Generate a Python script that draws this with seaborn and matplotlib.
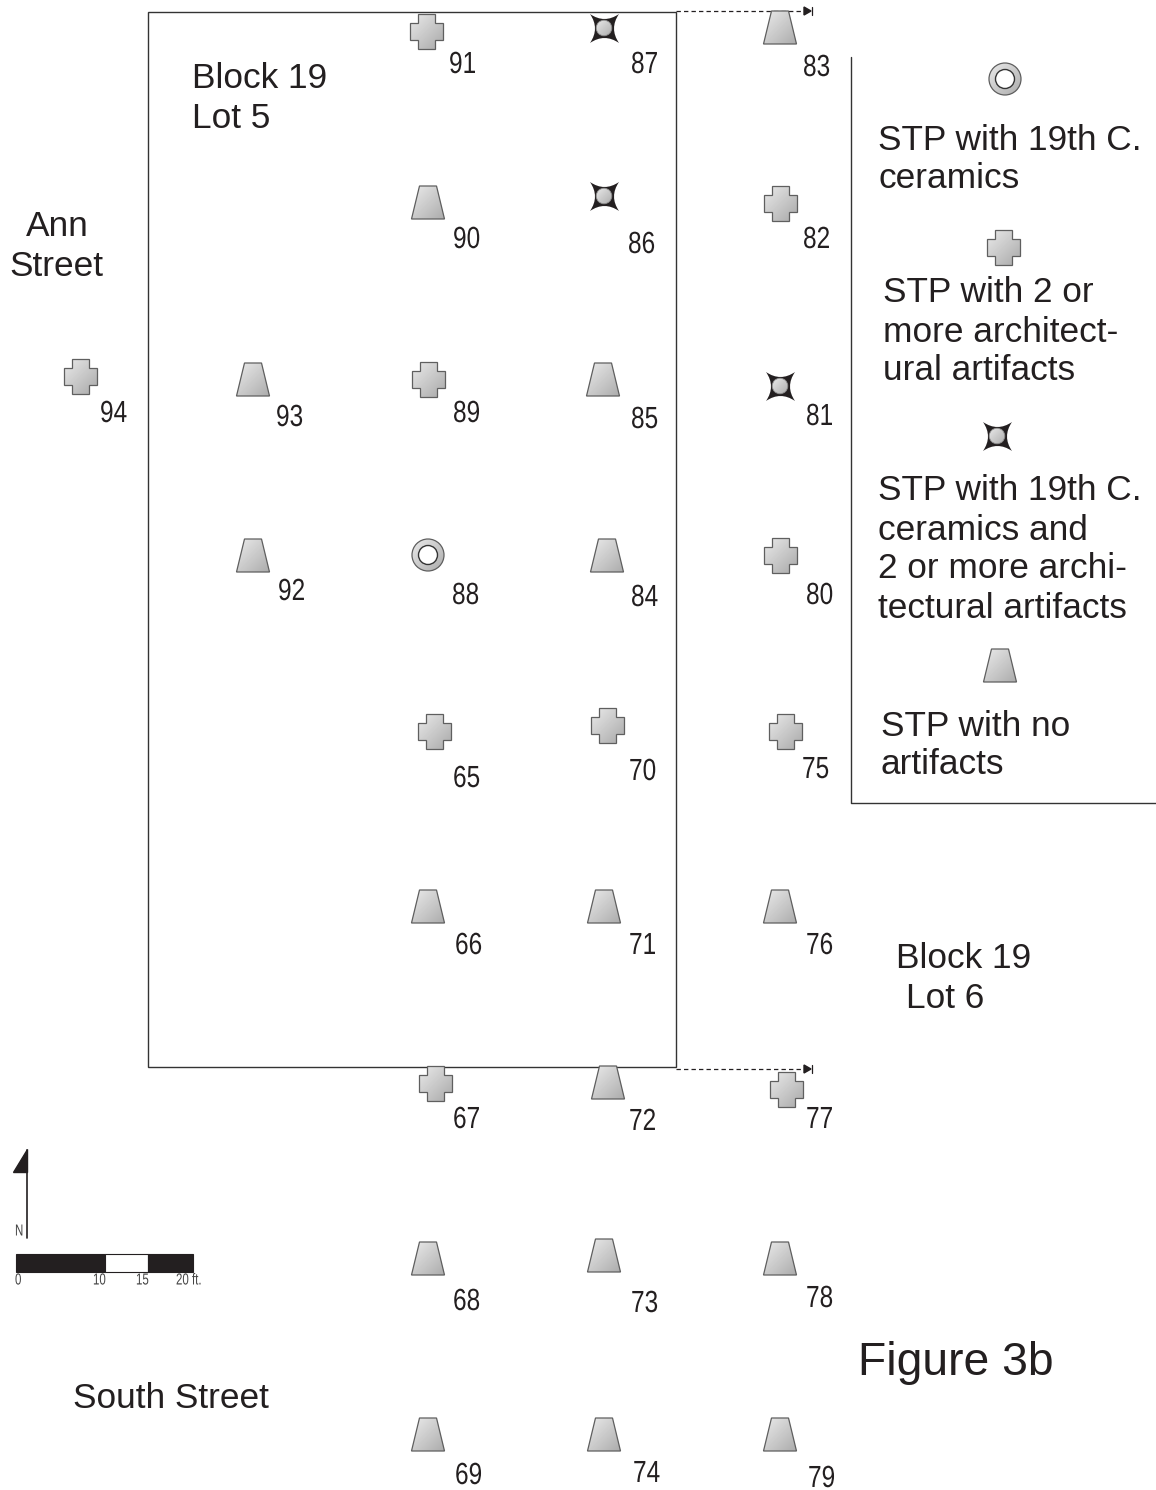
import numpy as np
import pandas as pd
import matplotlib
matplotlib.use("Agg")
import matplotlib.pyplot as plt
from matplotlib.path import Path
from matplotlib.patches import PathPatch, Rectangle, Polygon
from matplotlib.patheffects import AbstractPathEffect
from matplotlib.transforms import Affine2D
import seaborn as sns

sns.set_theme(style="white")

# ---- data ----
stp_ids = [91,87,83,90,86,82,94,93,89,85,81,92,88,84,80,65,70,75,66,71,76,67,72,77,68,73,78,69,74,79]
stp_x = [426,604,780,428,604,780,80,253,428,603,780,253,428,607,780,434,607,785,428,604,780,435,608,786,428,604,780,428,604,780]
stp_y = [31,28,28,203,196,203,376,380,379,380,386,556,555,556,555,731,725,731,907,907,907,1083,1083,1089,1259,1256,1259,1435,1435,1435]
stp_kind = ["cross","star","trap","trap","star","cross","cross","trap","cross","trap","star","trap","ring","trap","cross",
            "cross","cross","cross","trap","trap","trap","cross","trap","cross","trap","trap","trap","trap","trap","trap"]
label_x = [463,645,817,467,642,817,114,290,467,645,820,292,466,645,820,467,643,816,469,643,820,467,643,820,467,645,820,469,647,822]
label_y = [62,62,65,237,242,237,411,415,411,417,414,589,593,595,593,776,769,767,943,943,943,1117,1119,1117,1299,1301,1296,1473,1471,1476]

legend_kind = ["ring","cross","star","trap"]
legend_x = [1005,1003,997,1000]
legend_y = [79,247,436,666]

df = pd.DataFrame({"id": stp_ids, "x": stp_x, "y": stp_y, "kind": stp_kind,
                   "lx": label_x, "ly": label_y})
lg = pd.DataFrame({"x": legend_x, "y": legend_y, "kind": legend_kind})
allp = pd.concat([df[["x","y","kind"]], lg], ignore_index=True)

INK = "#231f20"


class Squeeze(AbstractPathEffect):
    """Condense glyphs horizontally, keeping the text real."""
    def __init__(self, sx):
        super().__init__()
        self.sx = sx

    def draw_path(self, renderer, gc, tpath, affine, rgbFace=None):
        renderer.draw_path(gc, tpath, Affine2D().scale(self.sx, 1) + affine, rgbFace)


# shapes in pixel offsets, y pointing down
trap = np.array([(-8.5,-17),(8.5,-17),(16.5,16),(-16.5,16),(-8.5,-17)], float)
cross = np.array([(-8.5,-17.5),(8.5,-17.5),(8.5,-8.5),(16.5,-8.5),(16.5,8.5),(8.5,8.5),(8.5,17.5),
                  (-8.5,17.5),(-8.5,8.5),(-16.5,8.5),(-16.5,-8.5),(-8.5,-8.5),(-8.5,-17.5)], float)


def shape_path(kind):
    if kind == "trap":
        return Path(trap, closed=True)
    if kind == "cross":
        return Path(cross, closed=True)
    if kind == "ring":
        return Path.circle((0, 0), 16)
    return Path.circle((0, 0), 7.8)


W, H = 1156, 1490
fig = plt.figure(figsize=(W/100, H/100), dpi=100, facecolor="white")
ax = fig.add_axes([0, 0, 1, 1])

grad = np.linspace(0, 1, 64)[:, None] * 0.5 + np.linspace(0, 1, 64)[None, :] * 0.5
grad = 0.93 - grad * 0.27


def size_for(max_px):
    # matplotlib scales a custom marker so that its largest coordinate is sqrt(s)/2 points
    return (2 * max_px * 0.72) ** 2


# star backings and base shapes, through seaborn
Q = [Path.MOVETO, Path.CURVE3, Path.CURVE3, Path.CURVE3, Path.CURVE3,
     Path.CURVE3, Path.CURVE3, Path.CURVE3, Path.CURVE3]
star_marker = Path([(-14.5,-14.5),(0,-4.5),(14.5,-14.5),(4.5,0),(14.5,14.5),(0,4.5),(-14.5,14.5),(-4.5,0),(-14.5,-14.5)], Q)
sns.scatterplot(data=allp[allp.kind == "star"], x="x", y="y", marker=star_marker, s=size_for(14.5),
                color=INK, edgecolor=INK, linewidth=0, ax=ax, zorder=2, legend=False)
for kind, verts in (("trap", trap), ("cross", cross)):
    mk = Path(verts * (1, -1), closed=True)
    sns.scatterplot(data=allp[allp.kind == kind], x="x", y="y", marker=mk,
                    s=size_for(np.abs(verts).max()), color="#c8c8c8", edgecolor="none",
                    linewidth=0, ax=ax, zorder=2, legend=False)

ax.set_xlim(0, W)
ax.set_ylim(H, 0)
ax.axis("off")

# gradient fills
for _, r in allp.iterrows():
    p = shape_path(r.kind)
    tp = Path(p.vertices + (r.x, r.y), p.codes)
    rr = 9 if r.kind == "star" else 18
    im = ax.imshow(grad, cmap="gray", vmin=0, vmax=1,
                   extent=(r.x-rr, r.x+rr, r.y+rr, r.y-rr),
                   interpolation="bilinear", zorder=3, aspect="auto")
    ec = "#8a8a8a" if r.kind == "star" else "#5f5f5f"
    pa = PathPatch(tp, transform=ax.transData, facecolor="none", edgecolor=ec,
                   lw=0.6 if r.kind == "star" else 0.9, zorder=4)
    ax.add_patch(pa)
    im.set_clip_path(pa)
    if r.kind == "ring":
        ax.add_patch(plt.Circle((r.x, r.y), 9.5, fc="white", ec="#333333", lw=1.0, zorder=5))
ax.set_xlim(0, W)
ax.set_ylim(H, 0)

# site outline and dashed extensions
ax.add_patch(Rectangle((148, 12), 528, 1055, fill=False, ec="#333333", lw=1.0, zorder=1))
for yy in (11, 1069):
    ax.plot([676, 806], [yy, yy], color=INK, lw=0.9, ls=(0, (3.5, 2.5)), zorder=1)
    ax.add_patch(Polygon([(804, yy-4), (811, yy), (804, yy+4)], color=INK, zorder=4))
    ax.plot([812, 812], [yy-4, yy+4], color=INK, lw=0.9, zorder=4)

sans = "Liberation Sans"
NUM_SX = 0.8
for _, r in df.iterrows():
    ax.text(r.lx - 14, r.ly + 3, str(r.id), family=sans, fontsize=22, color=INK,
            ha="left", va="center", zorder=6, path_effects=[Squeeze(NUM_SX)])

big = 25.4
texts = [
    (192, 76, "Block 19"), (192, 116, "Lot 5"),
    (26, 224, "Ann"), (9, 263, "Street"),
    (878, 137, "STP with 19th C."), (878, 176, "ceramics"),
    (883, 290, "STP with 2 or"), (883, 329, "more architect-"), (883, 368, "ural artifacts"),
    (878, 487, "STP with 19th C."), (878, 527, "ceramics and"),
    (878, 566, "2 or more archi-"), (878, 605, "tectural artifacts"),
    (881, 723, "STP with no"), (881, 762, "artifacts"),
    (896, 955, "Block 19"), (906, 995, "Lot 6"),
    (73, 1395, "South Street"),
]
for x, y, s in texts:
    ax.text(x, y + 3, s, family=sans, fontsize=big, color=INK, ha="left", va="center", zorder=6)
ax.text(858, 1363, "Figure 3b", family=sans, fontsize=33.3, color=INK, ha="left", va="center", zorder=6)

# legend frame
ax.plot([851, 851, 1156], [57, 803, 803], color="#333333", lw=1.0, zorder=1)

# north arrow
ax.plot([27, 27], [1150, 1238], color=INK, lw=1.2, zorder=4)
ax.add_patch(Polygon([(27, 1149), (27, 1172), (13, 1172)], color=INK, zorder=4))
ax.text(15, 1231, "N", family=sans, fontsize=11.5, color="#444444", ha="left", va="center",
        path_effects=[Squeeze(0.72)])

# scale bar
ax.add_patch(Rectangle((16, 1254), 89, 18, fc=INK, ec=INK, lw=0.8, zorder=4))
ax.add_patch(Rectangle((105, 1254), 43, 18, fc="white", ec=INK, lw=0.8, zorder=4))
ax.add_patch(Rectangle((148, 1254), 45, 18, fc=INK, ec=INK, lw=0.8, zorder=4))
for x, s in [(15, "0"), (93, "10"), (136, "15"), (176, "20 ft.")]:
    ax.text(x, 1280, s, family=sans, fontsize=11.5, color="#444444", ha="left", va="center",
            path_effects=[Squeeze(0.72)])

fig.savefig("out.png", dpi=100, facecolor="white")
